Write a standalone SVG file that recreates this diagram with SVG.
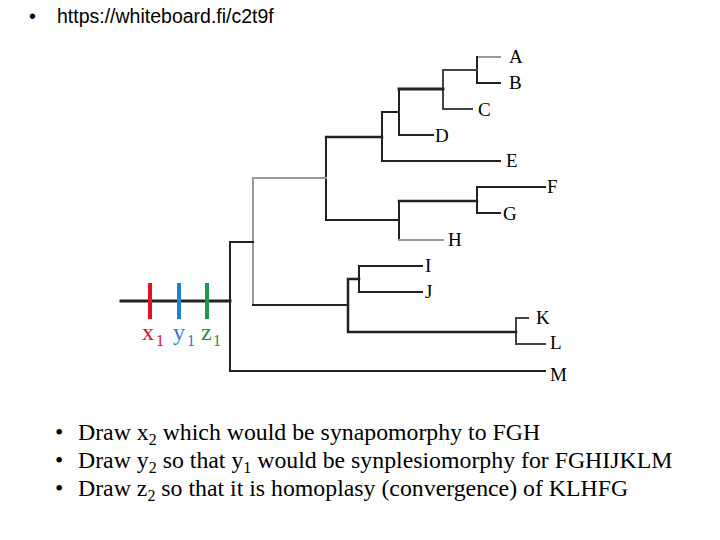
<svg xmlns="http://www.w3.org/2000/svg" width="720" height="540" viewBox="0 0 720 540">
<style>
.ln{fill:none;stroke:#222;stroke-width:2;stroke-linecap:square}
.gr{stroke:#999}
.dk{stroke:#444}
.lb{font-family:"Liberation Serif","Times New Roman",serif;font-size:19px;fill:#000}
.tx{font-family:"Liberation Serif","Times New Roman",serif;font-size:23.8px;fill:#000}
.hd{font-family:"Liberation Sans",Arial,sans-serif;font-size:19.5px;fill:#000}
.ch{font-family:"Liberation Serif","Times New Roman",serif;font-size:24px}
.sb{font-size:16px}
</style>
<rect width="720" height="540" fill="#fff"/>
<g id="header"><text class="hd" x="29" y="23">•</text><text class="hd" x="57" y="23">https://whiteboard.fi/c2t9f</text></g>
<g id="connectors">
<path class="ln gr" d="M477,57 H500"/>
<path class="ln" d="M477,57 V83 H500"/>
<path class="ln dk" d="M443,70 H477 M443,70 V109 H472"/>
<path class="ln" d="M399,89 H443" style="stroke-width:3"/>
<path class="ln" d="M399,89 V135 H433"/>
<path class="ln" d="M382,112 H399 M382,112 V161 H500"/>
<path class="ln" d="M477,187 H545 M477,187 V213 H500"/>
<path class="ln" d="M399,201 H477" style="stroke-width:2.5"/>
<path class="ln" d="M399,201 V240"/>
<path class="ln gr" d="M399,240 H443"/>
<path class="ln" d="M326,137 H382" style="stroke-width:2.5"/>
<path class="ln" d="M326,137 V220 H399"/>
<path class="ln" d="M359,266 H422 M359,266 V292 H422"/>
<path class="ln dk" d="M516,318 H528 M516,318 V344 H545"/>
<path class="ln" d="M348,279 H359 M348,279 V332 H516" style="stroke-width:2.5"/>
<path class="ln gr" d="M253,178 H326 M253,178 V305"/>
<path class="ln" d="M253,305 H348"/>
<path class="ln" d="M230,242 H253 M230,242 V371 H545"/>
<path class="ln" d="M121,301 H230" style="stroke-width:3"/>
</g>
<g id="bars">
<line x1="150" y1="283" x2="150" y2="319" stroke="#e3141e" stroke-width="4"/>
<line x1="179" y1="283" x2="179" y2="319" stroke="#1f80d0" stroke-width="4"/>
<line x1="207" y1="283" x2="207" y2="319" stroke="#1a9a4a" stroke-width="4"/>
</g>
<g id="x1"><text class="ch" x="142" y="340" fill="#c8161e">x<tspan class="sb" x="156" y="346">1</tspan></text></g>
<g id="y1"><text class="ch" x="173" y="340" fill="#2a7fc0">y<tspan class="sb" x="187" y="346">1</tspan></text></g>
<g id="z1"><text class="ch" x="201" y="340" fill="#2a8a50">z<tspan class="sb" x="213" y="346">1</tspan></text></g>
<g id="A"><text class="lb" x="509" y="63">A</text></g>
<g id="B"><text class="lb" x="509" y="89">B</text></g>
<g id="C"><text class="lb" x="478" y="116">C</text></g>
<g id="D"><text class="lb" x="435" y="142">D</text></g>
<g id="E"><text class="lb" x="506" y="167">E</text></g>
<g id="F"><text class="lb" x="547" y="193">F</text></g>
<g id="G"><text class="lb" x="503" y="220">G</text></g>
<g id="H"><text class="lb" x="448" y="246">H</text></g>
<g id="I"><text class="lb" x="425" y="272">I</text></g>
<g id="J"><text class="lb" x="425" y="298">J</text></g>
<g id="K"><text class="lb" x="536" y="324">K</text></g>
<g id="L"><text class="lb" x="550" y="349">L</text></g>
<g id="M"><text class="lb" x="550" y="381">M</text></g>
<g id="tasks">
<text class="tx" x="55" y="440">•</text><text class="tx" x="78" y="440">Draw x<tspan class="sb" dy="5">2</tspan><tspan dy="-5"> which would be synapomorphy to FGH</tspan></text>
<text class="tx" x="55" y="468">•</text><text class="tx" x="78" y="468">Draw y<tspan class="sb" dy="5">2</tspan><tspan dy="-5"> so that y</tspan><tspan class="sb" dy="5">1</tspan><tspan dy="-5"> would be synplesiomorphy for FGHIJKLM</tspan></text>
<text class="tx" x="55" y="496">•</text><text class="tx" x="78" y="496">Draw z<tspan class="sb" dy="5">2</tspan><tspan dy="-5"> so that it is homoplasy (convergence) of KLHFG</tspan></text>
</g>
</svg>
